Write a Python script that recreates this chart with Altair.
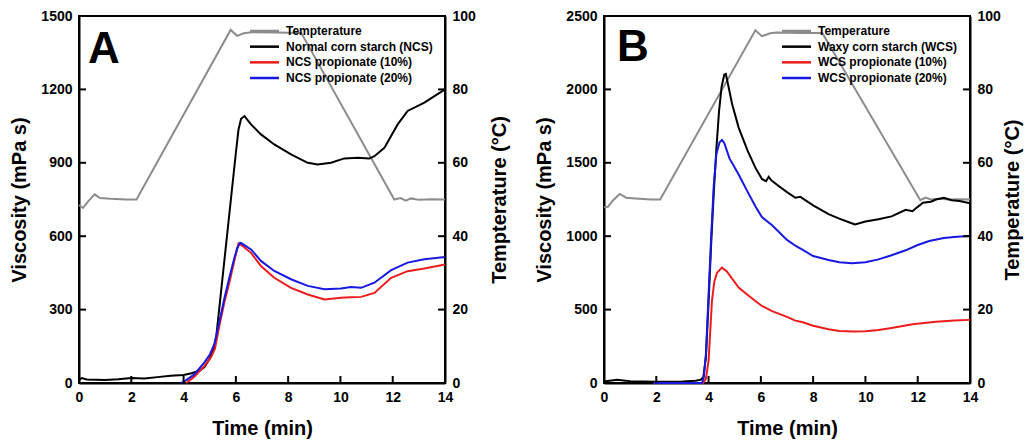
import altair as alt
import pandas as pd

FONT = "Liberation Sans"

TIME_TICKS = [0, 2, 4, 6, 8, 10, 12, 14]
A_VISC_TICKS = [0, 300, 600, 900, 1200, 1500]
B_VISC_TICKS = [0, 500, 1000, 1500, 2000, 2500]
TEMP_TICKS = [0, 20, 40, 60, 80, 100]

A_NAMES = ["Tempterature", "Normal corn starch (NCS)", "NCS propionate (10%)", "NCS propionate (20%)"]
B_NAMES = ["Temperature", "Waxy corn starch (WCS)", "WCS propionate (10%)", "WCS propionate (20%)"]
COLORS = ["#8c8c8c", "#000000", "#ec1c1c", "#1818e0"]

# ---- Panel A ----
A_TEMP_T = [0, 0.15, 0.35, 0.6, 0.8, 1.2, 1.8, 2.2, 5.8, 6.05, 6.3, 6.6, 7.5, 8.5, 12.06, 12.3, 12.5, 12.7, 13.0, 13.5, 14.0]
A_TEMP_V = [48.5, 47.7, 49.5, 51.4, 50.4, 50.2, 50.0, 50.0, 96.2, 94.6, 95.3, 95.6, 95.5, 95.4, 50.0, 50.4, 49.7, 50.3, 49.9, 50.1, 50.0]

A_NCS_T = [0, 0.1, 0.3, 1.0, 1.5, 2.0, 2.5, 3.0, 3.5, 4.0, 4.3, 4.6, 4.8, 5.0, 5.15, 5.25, 5.4, 5.6, 5.8, 6.0, 6.1, 6.2, 6.33,
           6.58, 6.96, 7.47, 8.11, 8.75, 9.13, 9.64, 10.15, 10.66, 11.11, 11.3, 11.68, 12.19, 12.57, 13.21, 14.0]
A_NCS_V = [12, 20, 14, 12, 15, 20, 18, 24, 30, 33, 40, 50, 65, 100, 140, 190, 340, 540, 740, 940, 1035, 1080, 1091,
           1057, 1016, 975, 934, 900, 893, 900, 918, 921, 918, 927, 961, 1057, 1112, 1146, 1200]

A_P10_T = [4.1, 4.4, 4.8, 5.05, 5.2, 5.37, 5.56, 5.75, 5.94, 6.1, 6.2, 6.58, 6.96, 7.47, 8.11, 8.75, 9.39, 10.02, 10.4,
           10.79, 11.3, 11.94, 12.57, 13.21, 14.0]
A_P10_V = [0, 25, 70, 105, 140, 235, 330, 410, 500, 570, 565, 532, 478, 430, 389, 362, 341, 348, 350, 352, 368, 430, 457,
           468, 484]

A_P20_T = [3.9, 4.1, 4.41, 4.79, 5.0, 5.18, 5.37, 5.56, 5.75, 5.94, 6.05, 6.16, 6.2, 6.58, 6.96, 7.47, 8.11, 8.75, 9.39,
           10.02, 10.4, 10.79, 11.3, 11.94, 12.57, 13.21, 14.0]
A_P20_V = [0, 12, 35, 83, 115, 160, 250, 345, 430, 510, 550, 573, 572, 546, 499, 458, 424, 397, 383, 386, 392, 389, 410,
           461, 492, 506, 515]

# ---- Panel B ----
B_TEMP_T = [0, 0.15, 0.35, 0.6, 0.85, 1.2, 1.8, 2.15, 5.79, 6.04, 6.36, 6.6, 7.5, 8.35, 12.1, 12.3, 12.5, 12.8, 13.2, 13.6, 14.0]
B_TEMP_V = [47.9, 48.0, 49.8, 51.5, 50.5, 50.3, 50.0, 50.0, 96.1, 94.5, 95.3, 95.5, 95.4, 95.4, 49.8, 50.5, 50.0, 50.2, 50.0, 50.1, 50.0]

B_WCS_T = [0, 0.5, 1.0, 2.0, 3.0, 3.5, 3.7, 3.8, 3.9, 4.0, 4.1, 4.2, 4.3, 4.4, 4.5, 4.6, 4.66, 4.75, 4.9, 5.15, 5.5, 5.79,
           6.04, 6.2, 6.3, 6.4, 6.68, 7.0, 7.32, 7.51, 8.0, 8.59, 9.0, 9.42, 9.6, 10.0, 10.5, 11.0, 11.54, 11.8, 12.0,
           12.2, 12.5, 12.7, 13.0, 13.3, 13.6, 14.0]
B_WCS_V = [10, 22, 12, 9, 11, 16, 22, 40, 180, 550, 950, 1300, 1600, 1850, 2020, 2100, 2105, 2030, 1900, 1740, 1580, 1467,
           1390, 1375, 1405, 1380, 1342, 1300, 1262, 1268, 1210, 1150, 1120, 1092, 1080, 1100, 1115, 1135, 1180, 1170, 1200,
           1228, 1235, 1250, 1262, 1245, 1240, 1225]

B_P10_T = [1.9, 3.8, 3.9, 4.0, 4.13, 4.22, 4.32, 4.51, 4.7, 5.15, 5.5, 5.79, 6.04, 6.43, 7.0, 7.32, 7.57, 8.0, 8.59, 9.0,
           9.55, 10.0, 10.5, 11.0, 11.8, 12.7, 13.4, 14.0]
B_P10_V = [0, 0, 30, 150, 560, 690, 750, 786, 760, 650, 600, 559, 525, 490, 450, 425, 415, 390, 366, 355, 350, 352, 361,
           375, 400, 418, 425, 430]

B_P20_T = [1.9, 3.75, 3.82, 3.9, 4.0, 4.1, 4.2, 4.3, 4.42, 4.51, 4.6, 4.8, 5.15, 5.5, 5.8, 6.04, 6.43, 7.0, 7.32, 7.57,
           8.0, 8.59, 9.0, 9.49, 10.0, 10.5, 11.0, 11.54, 12.0, 12.44, 13.0, 13.5, 14.0]
B_P20_V = [0, 0, 40, 200, 600, 1000, 1350, 1560, 1640, 1655, 1635, 1530, 1420, 1300, 1200, 1130, 1075, 975, 935, 910,
           865, 838, 822, 815, 822, 842, 870, 904, 940, 967, 988, 997, 1001]

W, H = 366, 367
TICK = 7
LEG_ROWS = [15, 62]      # pixel span of the in-plot legend rows
LEG_SYM = 29             # legend line length
LEG_GAP = 7              # gap between legend line and text


def panel(letter, names, temp_t, temp_v, series, vmax, vticks, ytitle, ttitle, legend_x, letter_x, letter_y, rpad):
    rows = []
    for name, (ts, vs) in zip(names[1:], series):
        rows += [{"t": t, "v": v, "s": name} for t, v in zip(ts, vs)]
    dv = pd.DataFrame(rows)
    dt = pd.DataFrame({"t": temp_t, "T": temp_v, "s": names[0]})

    xscale = alt.Scale(domain=[0, 14], nice=False)
    vscale = alt.Scale(domain=[0, vmax], nice=False)
    xaxis = alt.Axis(values=TIME_TICKS, title="Time (min)", format="d")
    vaxis = alt.Axis(values=vticks, title=ytitle, orient="left", format="d")
    cscale = alt.Scale(domain=names, range=COLORS)
    color = alt.Color("s:N", scale=cscale, legend=None)

    temp = alt.Chart(dt).mark_line(strokeWidth=2).encode(
        x=alt.X("t:Q", scale=xscale, axis=xaxis),
        y=alt.Y("T:Q", scale=alt.Scale(domain=[0, 100], nice=False),
                axis=alt.Axis(values=TEMP_TICKS, title=ttitle, orient="right",
                              titleAngle=270, titleBaseline="top", titlePadding=rpad)),
        color=color,
    )
    visc = alt.Chart(dv).mark_line(strokeWidth=2).encode(
        x=alt.X("t:Q", scale=xscale, axis=xaxis),
        y=alt.Y("v:Q", scale=vscale, axis=vaxis),
        color=color,
    )
    vt = pd.DataFrame({"v": vticks})
    left_ticks = alt.Chart(vt).mark_rule(color="black", strokeWidth=2).encode(
        y=alt.Y("v:Q", scale=vscale, axis=vaxis), x=alt.value(0), x2=alt.value(TICK))
    right_ticks = alt.Chart(vt).mark_rule(color="black", strokeWidth=2).encode(
        y=alt.Y("v:Q", scale=vscale, axis=vaxis), x=alt.value(W - TICK), x2=alt.value(W))
    bottom_ticks = alt.Chart(pd.DataFrame({"t": TIME_TICKS})).mark_rule(color="black", strokeWidth=2).encode(
        x=alt.X("t:Q", scale=xscale, axis=xaxis), y=alt.value(H - TICK), y2=alt.value(H))
    lab = alt.Chart(pd.DataFrame({"lab": [letter]})).mark_text(
        align="left", baseline="alphabetic", fontSize=44, fontWeight="bold", font=FONT, color="black"
    ).encode(text="lab:N", x=alt.value(letter_x), y=alt.value(letter_y))

    # in-plot legend
    ld = pd.DataFrame({"s": names})
    ly = alt.Y("s:N", sort=names, scale=alt.Scale(type="point", range=LEG_ROWS, padding=0), axis=None)
    leg_lines = alt.Chart(ld).mark_rule(strokeWidth=2.5).encode(
        y=ly, x=alt.value(legend_x), x2=alt.value(legend_x + LEG_SYM), color=color)
    leg_text = alt.Chart(ld).mark_text(
        align="left", baseline="middle", fontSize=12, fontWeight="bold", font=FONT, color="black"
    ).encode(y=ly, x=alt.value(legend_x + LEG_SYM + LEG_GAP), text="s:N")
    leg = alt.layer(leg_lines, leg_text)

    inner = alt.layer(visc, left_ticks, right_ticks, bottom_ticks, lab)
    return alt.layer(temp, inner, leg).resolve_scale(y="independent").properties(width=W, height=H)


pA = panel("A", A_NAMES, A_TEMP_T, A_TEMP_V,
           [(A_NCS_T, A_NCS_V), (A_P10_T, A_P10_V), (A_P20_T, A_P20_V)],
           1500, A_VISC_TICKS, "Viscosity (mPa s)", "Tempterature (°C)", 171, 9, 47, 14)
pB = panel("B", B_NAMES, B_TEMP_T, B_TEMP_V,
           [(B_WCS_T, B_WCS_V), (B_P10_T, B_P10_V), (B_P20_T, B_P20_V)],
           2500, B_VISC_TICKS, "Viscosity (mPa s)", "Temperature (°C)", 178, 13, 45, 2)

chart = alt.hconcat(pA, pB, spacing=22).resolve_scale(color="independent").properties(
    padding={"left": 0, "top": 0, "right": 0, "bottom": 0}
).configure_view(stroke="black", strokeWidth=2).configure_axis(
    ticks=False, domainColor="black", domainWidth=2, grid=False,
    labelFont=FONT, labelFontSize=14, labelFontWeight="bold", labelColor="black", labelPadding=7,
    titleFont=FONT, titleFontSize=20, titleFontWeight="bold", titleColor="black", titlePadding=11,
).configure_axisX(labelFlush=False, titlePadding=14)

chart.save("out.html", embed_options={"renderer": "svg", "actions": False})
